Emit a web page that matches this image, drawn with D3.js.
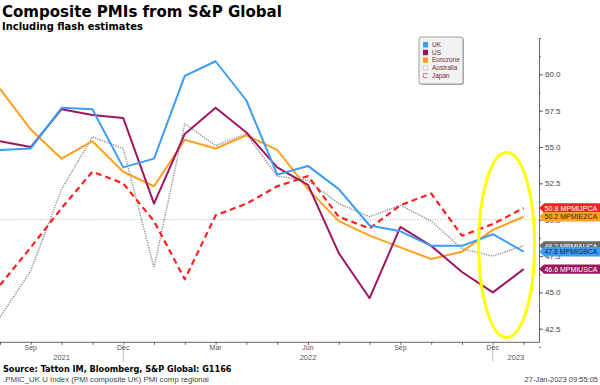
<!DOCTYPE html>
<html>
<head>
<meta charset="utf-8">
<script src="https://cdn.jsdelivr.net/npm/d3@7"></script>
<style>
  html, body { margin: 0; padding: 0; background: #fff; }
  svg { display: block; }
</style>
</head>
<body>
<div id="chart"></div>
<script>
// Monthly composite PMIs, Aug 2021 .. Jan 2023 (flash)
const months = ["Aug 21", "Sep 21", "Oct 21", "Nov 21", "Dec 21", "Jan 22", "Feb 22", "Mar 22", "Apr 22",
  "May 22", "Jun 22", "Jul 22", "Aug 22", "Sep 22", "Oct 22", "Nov 22", "Dec 22", "Jan 23"];
const ukValues = [54.8, 54.9, 57.7, 57.6, 53.6, 54.2, 59.9, 60.9, 58.2, 53.1, 53.7, 52.1, 49.6, 49.2, 48.2, 48.2, 49.0, 47.8];
const usValues = [55.4, 55.0, 57.6, 57.2, 57.0, 51.1, 55.9, 57.7, 56.0, 53.6, 52.4, 47.7, 44.6, 49.5, 48.2, 46.4, 45.0, 46.6];
const ezValues = [59.0, 56.2, 54.2, 55.4, 53.3, 52.3, 55.5, 54.9, 55.8, 54.8, 52.1, 49.9, 48.9, 48.1, 47.3, 47.8, 49.3, 50.2];
const auValues = [43.3, 46.5, 52.1, 55.7, 54.9, 46.7, 56.6, 55.1, 55.9, 53.0, 52.7, 51.1, 50.2, 51.0, 49.9, 48.0, 47.5, 48.2];
const jpValues = [45.5, 48.1, 50.8, 53.3, 52.5, 49.9, 45.9, 50.3, 51.1, 52.3, 53.0, 50.2, 49.4, 51.0, 51.8, 48.9, 49.7, 50.8];

const yTickValues = [42.5, 45.0, 47.5, 50.0, 52.5, 55.0, 57.5, 60.0];
const monthLabels = [[1, "Sep"], [4, "Dec"], [7, "Mar"], [10, "Jun"], [13, "Sep"], [16, "Dec"]];
const yearLabels = [[0, 4, "2021"], [4, 16, "2022"], [16, 17.5, "2023"]];

const series = [
  { name: "Australia", values: auValues, color: "#8f8f8f", width: 1.5, dash: "1.2,1.2", ticker: "MPMIAUCA", tagFill: "#6b6b6b", tagText: "#fff" },
  { name: "Japan", values: jpValues, color: "#ff1f1f", width: 2.2, dash: "6,4", ticker: "MPMIJPCA", tagFill: "#ff1f1f", tagText: "#fff" },
  { name: "Eurozone", values: ezValues, color: "#ffa020", width: 2, dash: null, ticker: "MPMIEZCA", tagFill: "#ffa020", tagText: "#3a2400" },
  { name: "US", values: usValues, color: "#9c1760", width: 2, dash: null, ticker: "MPMIUSCA", tagFill: "#9c1760", tagText: "#fff" },
  { name: "UK", values: ukValues, color: "#3d9df5", width: 2, dash: null, ticker: "MPMIGBCA", tagFill: "#3d9df5", tagText: "#0b2545" }
];
const legendOrder = ["UK", "US", "Eurozone", "Australia", "Japan"];

const width = 600, height = 385;
const axisX = 539;

const svg = d3.select("#chart").append("svg")
  .attr("width", width)
  .attr("height", height)
  .style("font-family", "'Liberation Sans', Arial, sans-serif");

const x = d3.scaleLinear().domain([0, 17.5]).range([0, axisX]);
const y = d3.scaleLinear().domain([41.6, 62.5]).range([341.8, 38]);

// shrink/grow font so a text hits a given width
function fitText(sel, target) {
  sel.each(function () {
    const t = d3.select(this);
    const fs = parseFloat(t.attr("font-size"));
    const w = this.getComputedTextLength();
    if (w > 0) t.attr("font-size", (fs * target / w).toFixed(2));
  });
  return sel;
}

// ---- titles ----
fitText(svg.append("text")
  .attr("x", 2).attr("y", 17)
  .attr("font-family", "'DejaVu Sans', Verdana, sans-serif")
  .attr("font-weight", "bold")
  .attr("font-size", 16)
  .attr("fill", "#000")
  .text("Composite PMIs from S&P Global"), 280);

fitText(svg.append("text")
  .attr("x", 2).attr("y", 29.5)
  .attr("font-family", "'DejaVu Sans', Verdana, sans-serif")
  .attr("font-weight", "bold")
  .attr("font-size", 10)
  .attr("fill", "#000")
  .text("Including flash estimates"), 141);

// ---- 50 reference line ----
svg.append("line")
  .attr("x1", 0).attr("x2", axisX)
  .attr("y1", y(50)).attr("y2", y(50))
  .attr("stroke", "#b5b5b5")
  .attr("stroke-width", 1)
  .attr("stroke-dasharray", "1,1.5");

// ---- right axis ----
const gy = svg.append("g").attr("transform", `translate(${axisX},0)`);
gy.call(d3.axisRight(y).tickValues(d3.range(41.25, 62.6, 1.25)).tickSize(2).tickSizeOuter(0).tickFormat(""));
gy.append("g").call(d3.axisRight(y).tickValues(yTickValues).tickSize(4).tickSizeOuter(0).tickFormat(d3.format(".1f")))
  .call(g => g.select(".domain").remove());
gy.selectAll(".domain").attr("stroke", "#666");
gy.selectAll(".tick line").attr("stroke", "#666");
gy.selectAll(".tick text")
  .attr("x", 6)
  .attr("font-size", 8)
  .attr("font-family", "'Liberation Sans', Arial, sans-serif")
  .attr("fill", "#444");

// ---- bottom axis ----
const xBase = y.range()[0];
const gx = svg.append("g").attr("transform", `translate(0,${xBase})`);
gx.call(d3.axisBottom(x).tickValues(d3.range(0, 18)).tickSize(3).tickSizeOuter(0).tickFormat(""));
gx.selectAll(".domain").attr("stroke", "#666");
gx.selectAll(".tick line").attr("stroke", "#666");

svg.append("g").selectAll("line.yeardiv")
  .data([4, 16])
  .join("line")
  .attr("x1", d => x(d)).attr("x2", d => x(d))
  .attr("y1", xBase + 1).attr("y2", xBase + 20)
  .attr("stroke", "#c8c8c8")
  .attr("stroke-width", 1.2);

svg.append("g").selectAll("text.month")
  .data(monthLabels)
  .join("text")
  .attr("x", d => x(d[0]))
  .attr("y", xBase + 8.5)
  .attr("text-anchor", "middle")
  .attr("font-size", 7)
  .attr("fill", "#555")
  .text(d => d[1]);

svg.append("g").selectAll("text.year")
  .data(yearLabels)
  .join("text")
  .attr("x", d => (x(d[0]) + x(d[1])) / 2)
  .attr("y", xBase + 18.5)
  .attr("text-anchor", "middle")
  .attr("font-size", 7.5)
  .attr("fill", "#555")
  .text(d => d[2]);

// ---- lines ----
const line = d3.line()
  .x((d, i) => x(i))
  .y(d => y(d));

svg.append("g").selectAll("path.series")
  .data(series)
  .join("path")
  .attr("d", d => line(d.values))
  .attr("fill", "none")
  .attr("stroke", d => d.color)
  .attr("stroke-width", d => d.width)
  .attr("stroke-dasharray", d => d.dash)
  .attr("stroke-linejoin", "round");

// ---- highlight ellipse ----
svg.append("ellipse")
  .attr("cx", x(16.45)).attr("cy", 245)
  .attr("rx", 28).attr("ry", 92.5)
  .attr("fill", "none")
  .attr("stroke", "#ffff00")
  .attr("stroke-width", 3);

// ---- last value tags ----
const tags = svg.append("g").selectAll("g.tag")
  .data(series)
  .join("g")
  .attr("transform", d => `translate(${axisX},${y(d.values[d.values.length - 1])})`);

tags.append("path")
  .attr("d", "M0,0 L5,-4.7 L62,-4.7 L62,4.7 L5,4.7 Z")
  .attr("fill", d => d.tagFill);

fitText(tags.append("text")
  .attr("x", 5.5).attr("y", 2.7)
  .attr("font-size", 7.5)
  .attr("fill", d => d.tagText)
  .text(d => `${d3.format(".1f")(d.values[d.values.length - 1])} ${d.ticker}`), 53);

// ---- legend ----
const lg = svg.append("g").attr("transform", "translate(419,37)");
lg.append("rect")
  .attr("x", 1).attr("y", 1).attr("width", 44).attr("height", 47)
  .attr("rx", 2).attr("fill", "#bbb");
lg.append("rect")
  .attr("width", 44).attr("height", 47)
  .attr("rx", 2)
  .attr("fill", "#f2f2f2")
  .attr("stroke", "#8a8a8a")
  .attr("stroke-width", 0.8);

const byName = new Map(series.map(s => [s.name, s]));
const rows = lg.selectAll("g.row")
  .data(legendOrder.map(n => byName.get(n)))
  .join("g")
  .attr("transform", (d, i) => `translate(4,${5 + i * 7.7})`);

rows.each(function (d) {
  const g = d3.select(this);
  if (d.name === "Australia") {
    g.append("rect").attr("x", 0.5).attr("y", 0.5).attr("width", 4).attr("height", 4.5)
      .attr("fill", "none").attr("stroke", "#999").attr("stroke-width", 0.7).attr("stroke-dasharray", "0.8,0.8");
  } else if (d.name === "Japan") {
    g.append("path").attr("d", "M4.5,0.8 L0.5,0.8 L0.5,4.8 L4.5,4.8")
      .attr("fill", "none").attr("stroke", d.color).attr("stroke-width", 0.9).attr("stroke-dasharray", "2,1");
  } else {
    g.append("rect").attr("width", 5).attr("height", 5.5).attr("fill", d.color);
  }
  g.append("text")
    .attr("x", 9).attr("y", 5)
    .attr("font-size", 6.5)
    .attr("fill", "#7a2a40")
    .text(d.name);
});

// ---- footer ----
fitText(svg.append("text")
  .attr("x", 3).attr("y", 372)
  .attr("font-family", "'DejaVu Sans', Verdana, sans-serif")
  .attr("font-weight", "bold")
  .attr("font-size", 9)
  .attr("fill", "#000")
  .text("Source: Tatton IM, Bloomberg, S&P Global: G1166"), 229);

fitText(svg.append("text")
  .attr("x", 3).attr("y", 382)
  .attr("font-size", 7)
  .attr("fill", "#444")
  .text(".PMIC_UK U Index (PMI composite UK) PMI comp regional"), 206);

svg.append("text")
  .attr("x", 598).attr("y", 382)
  .attr("text-anchor", "end")
  .attr("font-size", 7.5)
  .attr("fill", "#444")
  .text("27-Jan-2023 09:55:05");
</script>
</body>
</html>
